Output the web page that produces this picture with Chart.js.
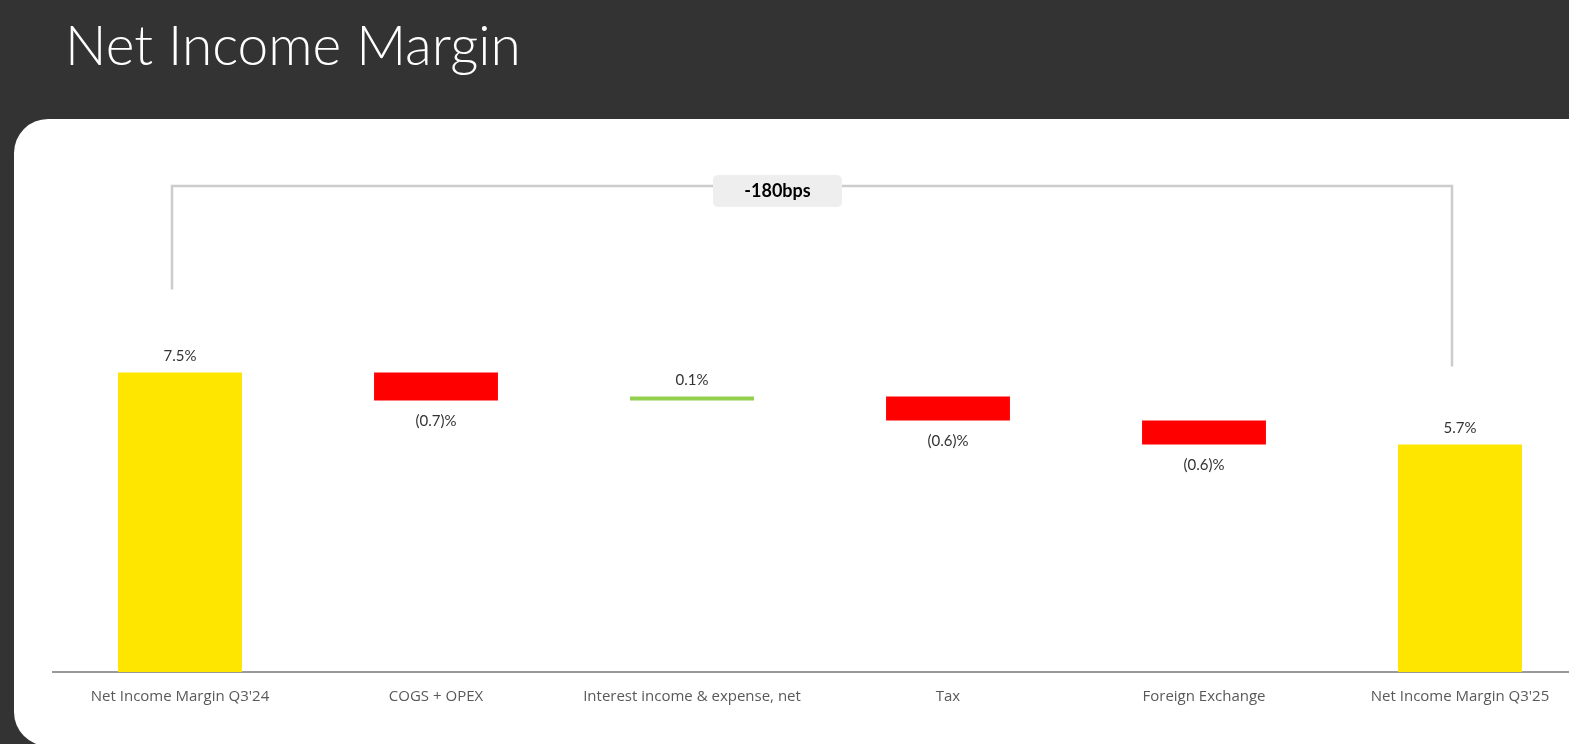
<!DOCTYPE html>
<html>
<head>
<meta charset="utf-8">
<script src="https://cdn.jsdelivr.net/npm/chart.js@4.4.1/dist/chart.umd.min.js"></script>
<style>
  html, body { margin: 0; padding: 0; }
  body { width: 1569px; height: 744px; background: #333333; overflow: hidden; position: relative; }
  #title { position: absolute; left: 65px; top: 11px; color: #fff; font-family: Lato, sans-serif; font-weight: 300; font-size: 55px; line-height: 66px; white-space: nowrap; }
  #panel { position: absolute; left: 14px; top: 119px; width: 1620px; height: 627px; background: #fff; border-radius: 34px; }
  #wrap { position: absolute; left: 52px; top: 113px; }
</style>
</head>
<body>
<div id="title">Net Income Margin</div>
<div id="panel"></div>
<div id="wrap"><canvas id="chart" width="1536" height="631"></canvas></div>
<script>
const categories = ["Net Income Margin Q3'24", "COGS + OPEX", "Interest income & expense, net", "Tax", "Foreign Exchange", "Net Income Margin Q3'25"];
const values = [7.5, -0.7, 0.1, -0.6, -0.6, 5.7];
const isTotal = [true, false, false, false, false, true];
const bracketText = "-180bps";

const YELLOW = "#FFE600";
const RED = "#FF0000";
const GREEN = "#92D050";

// floating ranges for the waterfall
let running = 0;
const ranges = values.map((v, i) => {
  if (isTotal[i]) {
    running = v;
    return [0, v];
  }
  const start = running;
  running = +(running + v).toFixed(2);
  return [start, running];
});
const colors = values.map((v, i) => isTotal[i] ? YELLOW : (v < 0 ? RED : GREEN));

function fmt(v) {
  return v < 0 ? "(" + Math.abs(v).toFixed(1) + ")%" : v.toFixed(1) + "%";
}

const overlay = {
  id: "overlay",
  afterDatasetsDraw(chart) {
    const ctx = chart.ctx;
    const meta = chart.getDatasetMeta(0);
    ctx.save();
    // value labels
    ctx.font = "15px Lato, sans-serif";
    ctx.fillStyle = "#333333";
    ctx.textAlign = "center";
    ctx.textBaseline = "middle";
    meta.data.forEach((bar, i) => {
      const v = values[i];
      const top = Math.min(bar.y, bar.base);
      const bottom = Math.max(bar.y, bar.base);
      if (v < 0) ctx.fillText(fmt(v), bar.x, bottom + 21);
      else ctx.fillText(fmt(v), bar.x, top - 16);
    });

    // bracket between first and last bar
    const first = meta.data[0];
    const last = meta.data[meta.data.length - 1];
    const xl = first.x - 8;
    const xr = last.x - 8;
    const yTop = 73;
    ctx.strokeStyle = "#cccccc";
    ctx.lineWidth = 2.5;
    ctx.beginPath();
    ctx.moveTo(xl, first.y - 83);
    ctx.lineTo(xl, yTop);
    ctx.lineTo(xr, yTop);
    ctx.lineTo(xr, last.y - 78);
    ctx.stroke();

    const bx = (xl + xr) / 2 - 34.5;
    const bw = 129, bh = 32;
    ctx.fillStyle = "#eeeeee";
    ctx.beginPath();
    ctx.roundRect(bx - bw / 2, yTop - 11, bw, bh, 5);
    ctx.fill();
    ctx.fillStyle = "#000000";
    ctx.font = "bold 18px Lato, sans-serif";
    ctx.fillText(bracketText, bx, yTop + 5.5);
    ctx.restore();
  }
};

new Chart(document.getElementById("chart"), {
  type: "bar",
  data: {
    labels: categories,
    datasets: [{
      data: ranges,
      backgroundColor: colors,
      borderWidth: 0,
      categoryPercentage: 1,
      barPercentage: 0.484
    }]
  },
  options: {
    responsive: false,
    animation: false,
    devicePixelRatio: 1,
    layout: { padding: 0 },
    plugins: {
      legend: { display: false },
      tooltip: { enabled: false }
    },
    scales: {
      x: {
        grid: { display: false, drawTicks: false },
        border: { display: true, color: "#999999", width: 2 },
        ticks: {
          color: "#595959",
          padding: 16,
          maxRotation: 0,
          autoSkip: false,
          font: { family: "'Open Sans', sans-serif", size: 15 }
        },
        afterFit(scale) { scale.height = 72; }
      },
      y: {
        display: false,
        min: 0,
        max: 14
      }
    }
  },
  plugins: [overlay]
});
</script>
</body>
</html>
